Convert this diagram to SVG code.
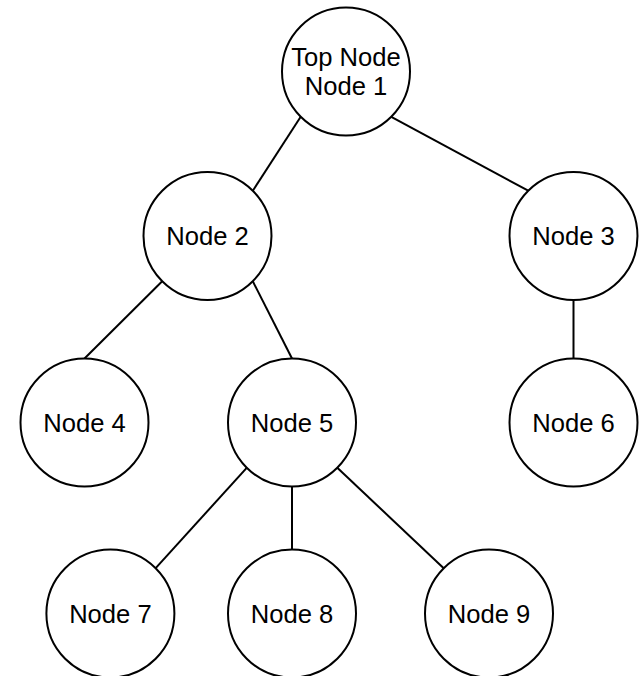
<svg xmlns="http://www.w3.org/2000/svg" width="640" height="676" viewBox="0 0 640 676">
<style>
.n circle{fill:#fff;stroke:#000;stroke-width:2}
.n text{font-family:"Liberation Sans",Arial,sans-serif;font-size:25.6px;fill:#000;text-anchor:middle}
.e line{stroke:#000;stroke-width:2;fill:none}
</style>
<rect width="640" height="676" fill="#fff"/>
<g id="connectors" class="e">
<line x1="300.7" y1="116.8" x2="252.8" y2="190.7"/>
<line x1="391.3" y1="116.8" x2="528.2" y2="190.7"/>
<line x1="162.2" y1="281.3" x2="84.5" y2="358.5"/>
<line x1="252.8" y1="281.3" x2="292" y2="358.5"/>
<line x1="573.5" y1="300" x2="573.5" y2="358.5"/>
<line x1="246.7" y1="467.8" x2="155.7" y2="568.2"/>
<line x1="292" y1="486.5" x2="292" y2="549.5"/>
<line x1="337.3" y1="467.8" x2="443.7" y2="568.2"/>
</g>
<g id="node1" class="n"><circle cx="346" cy="71.5" r="64"/><text x="346" y="65.5">Top Node</text><text x="346" y="95">Node 1</text></g>
<g id="node2" class="n"><circle cx="207.5" cy="236" r="64"/><text x="207.5" y="245.2">Node 2</text></g>
<g id="node3" class="n"><circle cx="573.5" cy="236" r="64"/><text x="573.5" y="245.2">Node 3</text></g>
<g id="node4" class="n"><circle cx="84.5" cy="422.5" r="64"/><text x="84.5" y="431.7">Node 4</text></g>
<g id="node5" class="n"><circle cx="292" cy="422.5" r="64"/><text x="292" y="431.7">Node 5</text></g>
<g id="node6" class="n"><circle cx="573.5" cy="422.5" r="64"/><text x="573.5" y="431.7">Node 6</text></g>
<g id="node7" class="n"><circle cx="110.4" cy="613.5" r="64"/><text x="110.4" y="622.7">Node 7</text></g>
<g id="node8" class="n"><circle cx="292" cy="613.5" r="64"/><text x="292" y="622.7">Node 8</text></g>
<g id="node9" class="n"><circle cx="489" cy="613.5" r="64"/><text x="489" y="622.7">Node 9</text></g>
</svg>
